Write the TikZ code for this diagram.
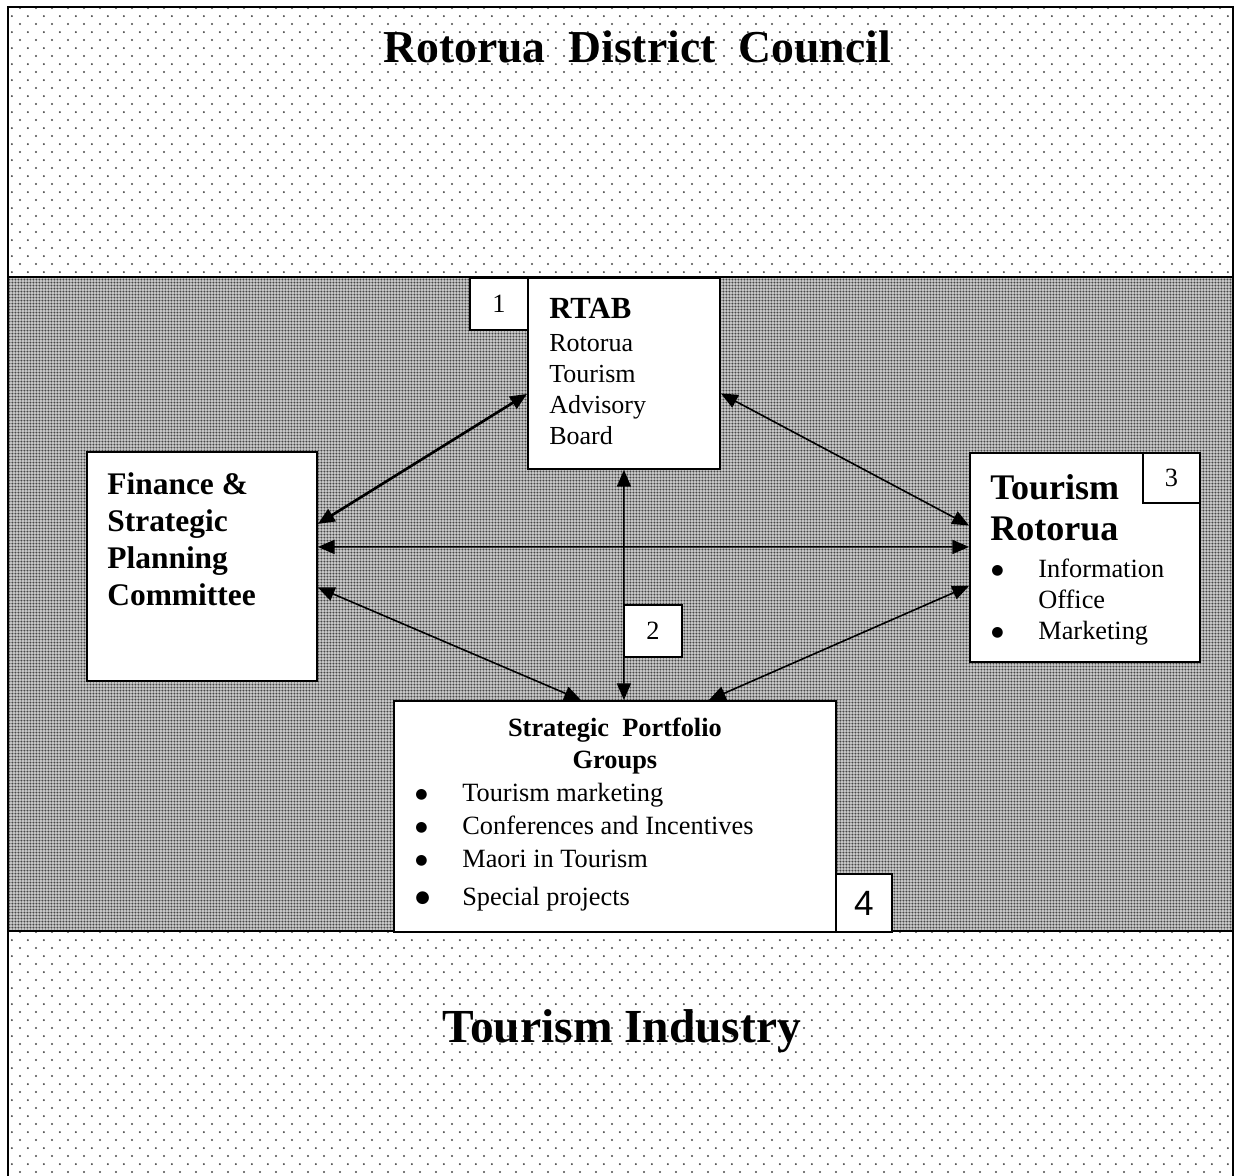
\documentclass[tikz,border=0pt]{standalone}
\usepackage{fontspec}
\setmainfont{Liberation Serif}
\newfontfamily\numsans{Liberation Sans}
\newfontfamily\symfont{DejaVu Sans}
\usetikzlibrary{patterns}
\usetikzlibrary{arrows.meta}
\usetikzlibrary{positioning}
\tikzset{>={Triangle[length=9.5pt,width=8pt]}}

\pgfdeclarepatternformonly{sparsedots}{\pgfqpoint{0pt}{0pt}}{\pgfqpoint{9.07pt}{9.07pt}}{\pgfqpoint{9.07pt}{9.07pt}}{%
  \pgfpathcircle{\pgfqpoint{2.27pt}{2.27pt}}{0.62pt}%
  \pgfpathcircle{\pgfqpoint{6.80pt}{6.80pt}}{0.62pt}%
  \pgfusepath{fill}}
\pgfdeclarepatternformonly{densedots}{\pgfqpoint{0pt}{0pt}}{\pgfqpoint{1.7pt}{1.7pt}}{\pgfqpoint{1.7pt}{1.7pt}}{%
  \pgfpathcircle{\pgfqpoint{0.85pt}{0.85pt}}{0.58pt}%
  \pgfusepath{fill}}

\newcommand{\bul}{\makebox[0.94cm][l]{\raisebox{1.8pt}{\symfont\fontsize{8}{8}\selectfont ●}}}
\newcommand{\bigbul}{\makebox[0.94cm][l]{\raisebox{1.5pt}{\symfont\fontsize{9.5}{9.5}\selectfont ●}}}
\newcommand{\bulgap}{\hspace*{0.94cm}}

\begin{document}
\begin{tikzpicture}[
        x=0.02cm, y=-0.02cm,
        box/.style={draw, line width=1.1pt, fill=white, anchor=north west, inner sep=0pt},
        numbox/.style={box, font=\fontsize{15}{18}\selectfont},
        boxtext/.style={inner sep=0pt, anchor=north west, align=left},
        conn/.style={<->, line width=0.9pt},
    ]
        \useasboundingbox (0,0) rectangle (1235,1176);

        % council band
        \fill[white] (8,7) rectangle (1233,277);
        \fill[pattern=sparsedots, pattern color=black!70] (8,7) rectangle (1233,277);

        % middle band
        \fill[black!22] (8,277) rectangle (1233,931);
        \fill[pattern=densedots, pattern color=black!72] (8,277) rectangle (1233,931);

        % industry band
        \fill[pattern=sparsedots, pattern color=black!70] (8,931) rectangle (1233,1190);

        \draw[line width=1.2pt] (8,1190) -- (8,7) -- (1233,7) -- (1233,1190);
        \draw[line width=1.2pt] (8,277) -- (1233,277);
        \draw[line width=1.2pt] (8,931) -- (1233,931);

        \node[font=\bfseries\fontsize{26}{30}\selectfont, anchor=base] (council) at (637,63)
            {Rotorua\hspace{0.5em}District\hspace{0.5em}Council};
        \node[font=\bfseries\fontsize{27}{32}\selectfont, anchor=base] (industry) at (622,1042)
            {Tourism Industry};

        % rtab
        \node[box, minimum width=3.84cm, minimum height=3.82cm] (rtab) at (527,277) {};
        \node[numbox, minimum width=1.16cm, minimum height=1.04cm] (n1) at (469,277) {1};
        \node[boxtext, font=\fontsize{14.8}{17.6}\selectfont,
            below right=0.42cm and 0.44cm of rtab.north west] (rtabtext)
            {{\bfseries\fontsize{17.5}{20}\selectfont RTAB}\\[1.1pt] Rotorua\\ Tourism\\ Advisory\\ Board};

        % finance committee
        \node[box, minimum width=4.6cm, minimum height=4.58cm] (fin) at (86,451) {};
        \node[boxtext, font=\bfseries\fontsize{17.9}{21.2}\selectfont,
            below right=0.42cm and 0.42cm of fin.north west] (fintext)
            {Finance \&\\ Strategic\\ Planning\\ Committee};

        % tourism rotorua
        \node[box, minimum width=4.6cm, minimum height=4.18cm] (tr) at (969,452) {};
        \node[numbox, minimum width=1.14cm, minimum height=1.0cm] (n3) at (1142,452) {3};
        \node[boxtext, font=\bfseries\fontsize{20.5}{23.2}\selectfont,
            below right=0.44cm and 0.42cm of tr.north west] (trhead)
            {Tourism\\ Rotorua};
        \node[boxtext, font=\fontsize{15}{17.6}\selectfont,
            below right=2.14cm and 0.44cm of tr.north west] (trlist)
            {\bul Information\\ \bulgap Office\\ \bul Marketing};

        % portfolio groups
        \node[box, minimum width=8.84cm, minimum height=4.62cm] (spg) at (393,700) {};
        \node[numbox, font=\numsans\fontsize{20}{24}\selectfont,
            minimum width=1.12cm, minimum height=1.16cm] (n4) at (835,873) {4};
        \node[font=\bfseries\fontsize{15}{18.1}\selectfont, align=center, inner sep=0pt,
            below=0.35cm of spg.north] (spghead)
            {Strategic\hspace{0.5em}Portfolio\\ Groups};
        \node[boxtext, font=\fontsize{15}{18.7}\selectfont,
            below right=1.66cm and 0.44cm of spg.north west] (spglist)
            {\bul Tourism marketing\\ \bul Conferences and Incentives\\ \bul Maori in Tourism\\[2.8pt] \bigbul Special projects};

        \node[numbox, minimum width=1.16cm, minimum height=1.04cm] (n2) at (623,604) {2};

        % links
        \draw[conn, line width=1.5pt] ([shift={(0,20.5)}]rtab.west) -- ([shift={(0,-42.5)}]fin.east);
        \draw[conn] ([shift={(0,-19.5)}]fin.east) -- ([shift={(0,-10.5)}]tr.west);
        \draw[conn] ([shift={(0,21)}]fin.east) -- ([shift={(-34,0)}]spg.north);
        \draw[conn] ([shift={(0,20)}]rtab.east) -- ([shift={(0,-32)}]tr.west);
        \draw[conn] ([shift={(0,28.5)}]tr.west) -- ([shift={(94,0)}]spg.north);
        \draw[conn] (rtab.south) -- ([shift={(9,0)}]spg.north);
    \end{tikzpicture}
\end{document}
